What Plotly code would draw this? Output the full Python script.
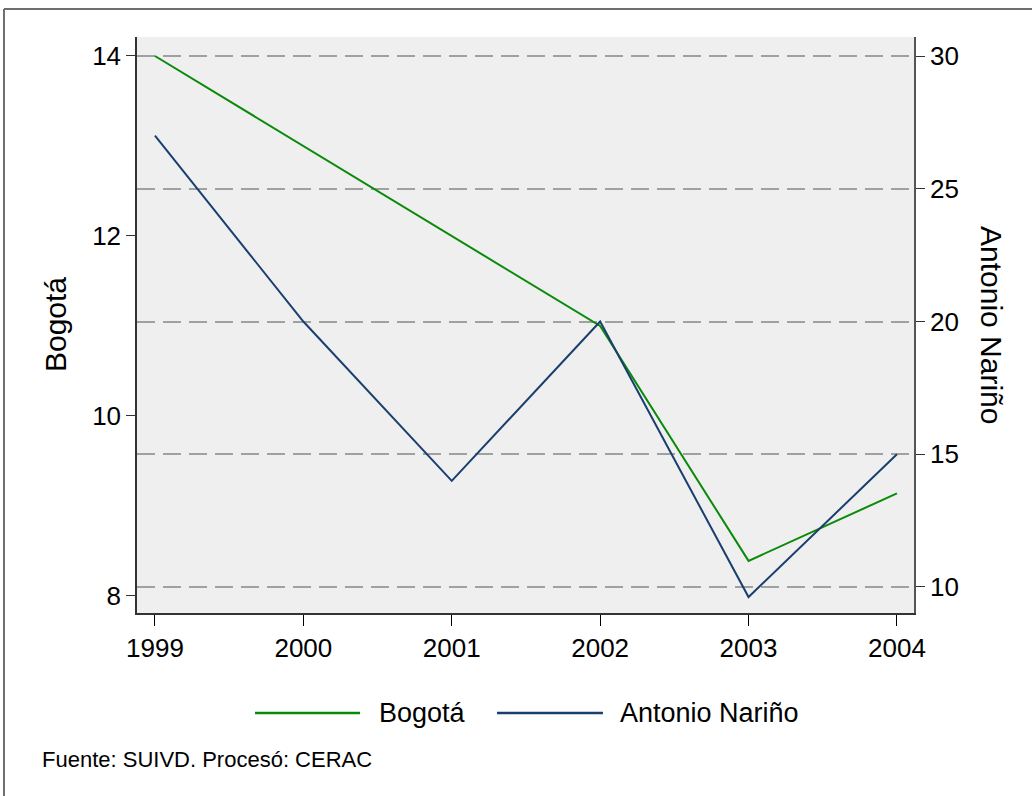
import plotly.graph_objects as go

years = [1999, 2000, 2001, 2002, 2003, 2004]
bogota = [14.0, 13.0, 12.0, 11.0, 8.39, 9.14]
antonio_narino = [27.0, 20.0, 14.0, 20.0, 9.62, 15.0]

left_ticks = [8, 10, 12, 14]
right_ticks = [10, 15, 20, 25, 30]

series_names = ["Bogotá", "Antonio Nariño"]

FONT = "Liberation Sans, Arial, sans-serif"
GREEN = "#0a8a0a"
NAVY = "#1a3f6f"

fig = go.Figure()
fig.add_trace(go.Scatter(x=years, y=bogota, name=series_names[0], mode="lines",
                         line=dict(color=GREEN, width=2), yaxis="y", showlegend=False))
fig.add_trace(go.Scatter(x=years, y=antonio_narino, name=series_names[1], mode="lines",
                         line=dict(color=NAVY, width=2), yaxis="y2", showlegend=False))

# custom legend (long swatches like the reference)
LEG_Y = -0.1736
legend_shapes = [
    dict(type="line", xref="paper", yref="paper", x0=0.1519, x1=0.287, y0=LEG_Y, y1=LEG_Y,
         line=dict(color=GREEN, width=2.5)),
    dict(type="line", xref="paper", yref="paper", x0=0.4633, x1=0.5997, y0=LEG_Y, y1=LEG_Y,
         line=dict(color=NAVY, width=2.5)),
]
legend_texts = [
    dict(text=series_names[0], xref="paper", yref="paper", x=0.3089, y=LEG_Y,
         xanchor="left", yanchor="middle", showarrow=False, font=dict(size=27)),
    dict(text=series_names[1], xref="paper", yref="paper", x=0.619, y=LEG_Y,
         xanchor="left", yanchor="middle", showarrow=False, font=dict(size=27)),
]

fig.update_layout(
    width=1032, height=796,
    margin=dict(l=137, r=118, t=37, b=183),
    paper_bgcolor="white",
    plot_bgcolor="#efefef",
    font=dict(family=FONT, size=25, color="black"),
    showlegend=False,
    xaxis=dict(range=[1998.879, 2004.115], tickvals=years, ticktext=[str(y) for y in years],
               showgrid=False, zeroline=False, showline=True, linecolor="#333333", linewidth=1.5,
               ticks="outside", ticklen=11, tickcolor="black", tickfont=dict(size=26)),
    yaxis=dict(range=[7.811, 14.211], tickvals=left_ticks, showgrid=False, zeroline=False,
               showline=True, linecolor="#333333", linewidth=1.5,
               ticks="outside", ticklen=9, tickcolor="#333333", tickfont=dict(size=26)),
    yaxis2=dict(range=[9.02, 30.72], tickvals=right_ticks, overlaying="y", side="right",
                showgrid=True, gridcolor="#a0a0a0", griddash="18px,8px", gridwidth=1.5,
                zeroline=False, showline=True, linecolor="#555555", linewidth=1.5,
                ticks="outside", ticklen=9, tickcolor="#333333", tickfont=dict(size=26)),
    annotations=[
        dict(text="Bogotá", xref="paper", yref="paper", x=-0.1055, y=0.5,
             textangle=-90, showarrow=False, font=dict(size=30), xanchor="center", yanchor="middle"),
        dict(text="Antonio Nariño", xref="paper", yref="paper", x=1.1004, y=0.5,
             textangle=90, showarrow=False, font=dict(size=30), xanchor="center", yanchor="middle"),
        dict(text="Fuente: SUIVD. Procesó: CERAC", xref="paper", yref="paper",
             x=-0.1248, y=-0.255, xanchor="left", yanchor="middle", showarrow=False,
             font=dict(size=22)),
    ] + legend_texts,
    shapes=[
        dict(type="line", xref="paper", yref="paper", x0=-0.1712, x1=1.16, y0=1.0486, y1=1.0486,
             line=dict(color="#6e6e6e", width=2)),
        dict(type="line", xref="paper", yref="paper", x0=-0.1712, x1=-0.1712, y0=1.0486, y1=-0.33,
             line=dict(color="#6e6e6e", width=2)),
    ] + legend_shapes,
)

fig.write_html("out.html", config={"displayModeBar": False},
               post_script="document.body.style.margin='0';document.body.style.overflow='hidden';")
